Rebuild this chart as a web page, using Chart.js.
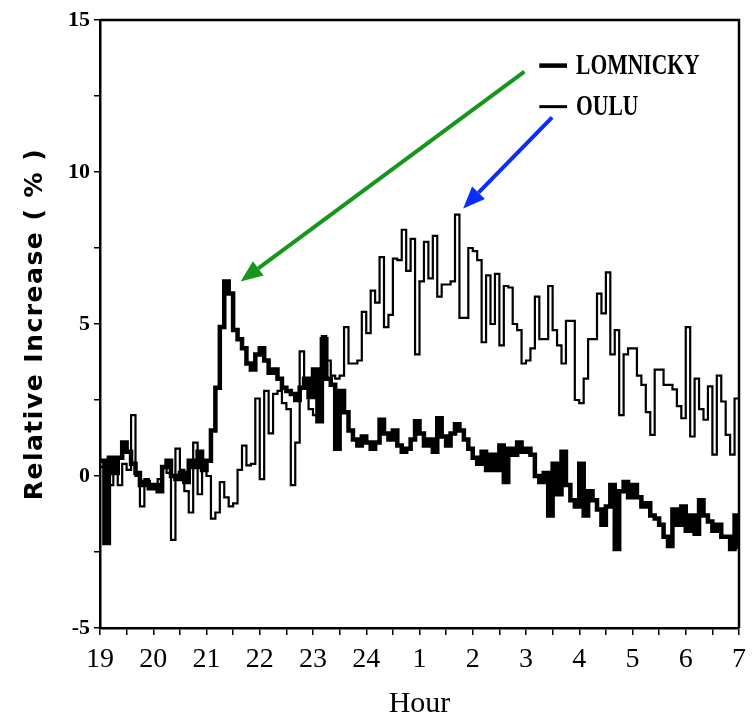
<!DOCTYPE html>
<html>
<head>
<meta charset="utf-8">
<script src="https://cdn.jsdelivr.net/npm/chart.js@4/dist/chart.umd.min.js"></script>
<style>
  body { margin: 0; background: #fff; }
  #wrap { width: 754px; height: 722px; }
</style>
</head>
<body>
<div id="wrap"><canvas id="chart" width="754" height="722"></canvas></div>
<script>
// tick labels for the hour axis (x value = hours after 19:00)
const hourLabels = ['19', '20', '21', '22', '23', '24', '1', '2', '3', '4', '5', '6', '7'];
const BIN_MINUTES = 5;

// relative increase (%), one value per 5 minute bin
const lomnicky = [
  0.5, -2.2, 0.6, 0.1, 0.6, 1.1, 0.8, 0.4, 0.1, -0.3, -0.2, -0.4,      // 19h
  -0.3, -0.5, 0.3, 0.5, 0.0, -0.1, 0.1, -0.2, 0.5, 0.3, 0.8, 0.2,      // 20h
  0.5, 1.5, 2.9, 4.9, 6.4, 6.0, 4.8, 4.5, 4.2, 3.7, 3.5, 4.0,          // 21h
  4.2, 3.8, 3.4, 3.5, 3.2, 2.9, 2.8, 2.7, 2.5, 2.9, 3.2, 2.6,          // 22h
  3.5, 1.8, 4.5, 3.2, 3.0, 0.9, 2.8, 2.1, 1.5, 1.2, 1.0, 1.3,          // 23h
  1.1, 0.9, 1.1, 1.85, 1.4, 1.2, 1.5, 1.0, 0.8, 0.9, 1.2, 1.8,         // 24h
  1.4, 1.0, 1.2, 0.8, 1.9, 1.3, 1.0, 1.4, 1.7, 1.5, 1.2, 0.9,          // 1h
  0.6, 0.4, 0.8, 0.2, 0.7, 0.2, 1.0, -0.2, 0.9, 0.7, 1.1, 0.8,         // 2h
  0.9, 0.7, 0.0, -0.2, 0.1, -1.3, 0.4, -0.6, 0.8, -0.3, -0.8, -1.0,    // 3h
  0.4, -1.3, -0.5, -0.8, -1.1, -1.6, -1.0, -0.3, -2.4, -0.5, -0.2, -0.7, // 4h
  -0.3, -0.7, -1.0, -0.9, -1.3, -1.4, -1.6, -2.0, -2.3, -1.1, -1.6, -1.0, // 5h
  -1.8, -1.3, -1.9, -0.8, -1.3, -1.5, -1.8, -1.6, -2.0, -2.0, -2.4, -1.3, // 6h
  -2.4
];

const oulu = [
  0.3, 0.5, -0.3, 0.3, -0.3, 0.4, 0.2, 2.0, 0.0, -1.0, -0.1, -0.3,     // 19h
  -0.4, -0.1, 0.3, 0.1, -2.1, 0.9, 0.2, -0.5, -1.2, 1.1, -0.6, 0.3,    // 20h
  0.0, -1.4, -1.2, -0.2, -0.7, -1.0, -0.9, 0.2, 1.0, 0.35, 0.4, 2.55,  // 21h
  -0.1, 2.8, 1.4, 2.7, 2.8, 2.4, 2.2, -0.3, 1.1, 4.1, 3.0, 2.2,        // 22h
  2.0, 3.3, 4.6, 3.8, 3.3, 3.2, 3.3, 4.9, 3.7, 3.7, 3.8, 5.4,          // 23h
  4.7, 6.1, 5.7, 7.2, 4.9, 5.3, 7.15, 7.1, 8.1, 6.75, 7.8, 4.0,        // 24h
  6.4, 7.7, 6.5, 7.9, 5.9, 6.3, 6.3, 6.4, 8.6, 5.2, 5.2, 7.5,          // 1h
  7.4, 7.1, 4.4, 6.6, 5.0, 6.65, 4.3, 6.25, 6.2, 5.0, 4.8, 3.7,        // 2h
  3.8, 4.2, 5.9, 4.5, 4.5, 6.25, 4.8, 4.3, 3.7, 5.1, 5.1, 2.5,         // 3h
  2.4, 3.2, 4.5, 4.5, 6.0, 5.35, 6.7, 4.0, 4.8, 2.0, 4.0, 4.2,         // 4h
  4.2, 3.3, 3.0, 2.1, 1.35, 3.5, 3.5, 3.0, 3.0, 2.85, 2.3, 1.9,        // 5h
  4.9, 1.3, 3.2, 2.2, 1.85, 2.95, 0.7, 3.3, 2.45, 1.35, 0.7, 2.55,     // 6h
  2.55
];

function toPoints(values) {
  return values.map(function (v, i) { return { x: i * BIN_MINUTES / 60, y: v }; });
}

// annotation anchors, in data units (hours after 19:00, %)
const greenArrow = { from: [7.97, 13.3], to: [2.64, 6.4] };
const blueArrow = { from: [8.49, 11.8], to: [6.82, 8.8] };
const legendRows = [
  { label: 'LOMNICKY', y: 13.5, width: 4.5 },
  { label: 'OULU', y: 12.15, width: 3 }
];

function drawArrow(ctx, x0, y0, x1, y1, color) {
  const ang = Math.atan2(y1 - y0, x1 - x0);
  const head = 22, half = 9;
  const bx = x1 - head * Math.cos(ang), by = y1 - head * Math.sin(ang);
  ctx.strokeStyle = color;
  ctx.lineWidth = 4;
  ctx.beginPath();
  ctx.moveTo(x0, y0);
  ctx.lineTo(bx, by);
  ctx.stroke();
  ctx.fillStyle = color;
  ctx.beginPath();
  ctx.moveTo(x1, y1);
  ctx.lineTo(bx + half * Math.sin(ang), by - half * Math.cos(ang));
  ctx.lineTo(bx - half * Math.sin(ang), by + half * Math.cos(ang));
  ctx.closePath();
  ctx.fill();
}

const overlay = {
  id: 'overlay',
  afterDraw(chart) {
    const ctx = chart.ctx, a = chart.chartArea;
    const x = chart.scales.x, y = chart.scales.y;
    ctx.save();

    // top and right side of the frame
    ctx.strokeStyle = '#000';
    ctx.lineWidth = 2.5;
    ctx.beginPath();
    ctx.moveTo(a.left, a.top);
    ctx.lineTo(a.right, a.top);
    ctx.lineTo(a.right, a.bottom);
    ctx.stroke();

    // legend inside the plot
    legendRows.forEach(function (row) {
      const py = y.getPixelForValue(row.y);
      ctx.strokeStyle = '#000';
      ctx.lineWidth = row.width;
      ctx.beginPath();
      ctx.moveTo(x.getPixelForValue(8.25), py);
      ctx.lineTo(x.getPixelForValue(8.77), py);
      ctx.stroke();
      ctx.save();
      ctx.translate(x.getPixelForValue(8.94), py);
      ctx.scale(0.72, 1);
      ctx.fillStyle = '#000';
      ctx.font = 'bold 30px "Liberation Serif"';
      ctx.textBaseline = 'middle';
      ctx.fillText(row.label, 0, 1);
      ctx.restore();
    });

    // arrows
    drawArrow(ctx, x.getPixelForValue(greenArrow.from[0]), y.getPixelForValue(greenArrow.from[1]),
      x.getPixelForValue(greenArrow.to[0]), y.getPixelForValue(greenArrow.to[1]), '#16961c');
    drawArrow(ctx, x.getPixelForValue(blueArrow.from[0]), y.getPixelForValue(blueArrow.from[1]),
      x.getPixelForValue(blueArrow.to[0]), y.getPixelForValue(blueArrow.to[1]), '#0a2cff');

    // y axis title, spaced out like the original
    ctx.translate(35, (a.top + a.bottom) / 2);
    ctx.rotate(-Math.PI / 2);
    ctx.fillStyle = '#000';
    ctx.font = 'bold 25px "DejaVu Sans"';
    ctx.letterSpacing = '1.5px';
    ctx.textAlign = 'center';
    ctx.textBaseline = 'middle';
    ctx.fillText('Relative Increase ( % )', 0, 0);
    ctx.restore();
  }
};

new Chart(document.getElementById('chart'), {
  type: 'line',
  data: {
    datasets: [{
      label: 'LOMNICKY',
      data: toPoints(lomnicky),
      borderColor: '#000',
      borderWidth: 4.5,
      stepped: true,
      pointRadius: 0
    }, {
      label: 'OULU',
      data: toPoints(oulu),
      borderColor: '#000',
      borderWidth: 2.2,
      stepped: true,
      pointRadius: 0
    }]
  },
  options: {
    responsive: false,
    animation: false,
    layout: { padding: { top: 20, right: 9, left: 0, bottom: 0 } },
    plugins: { legend: { display: false }, tooltip: { enabled: false } },
    scales: {
      x: {
        type: 'linear',
        min: 0,
        max: 12,
        afterFit: function (s) { s.height = 94; },
        border: { color: '#000', width: 2.5 },
        grid: { drawOnChartArea: false, color: '#000', lineWidth: 1.5, tickLength: 7 },
        ticks: {
          stepSize: 0.5,
          autoSkip: false,
          maxRotation: 0,
          padding: 8,
          color: '#000',
          font: { family: 'Liberation Serif', size: 28 },
          callback: function (v) { return Number.isInteger(v) ? hourLabels[v] : ''; }
        },
        title: {
          display: true,
          text: 'Hour',
          color: '#000',
          font: { family: 'Liberation Serif', size: 30 },
          padding: { top: 0, bottom: 0 }
        }
      },
      y: {
        min: -5,
        max: 15,
        afterFit: function (s) { s.width = 100; },
        border: { color: '#000', width: 2.5 },
        grid: { drawOnChartArea: false, color: '#000', lineWidth: 1.5, tickLength: 6 },
        ticks: {
          stepSize: 2.5,
          padding: 4,
          color: '#000',
          font: { family: 'Liberation Serif', size: 22, weight: 'bold' },
          callback: function (v) { return v % 5 === 0 ? String(v) : ''; }
        }
      }
    }
  },
  plugins: [overlay]
});
</script>
</body>
</html>
